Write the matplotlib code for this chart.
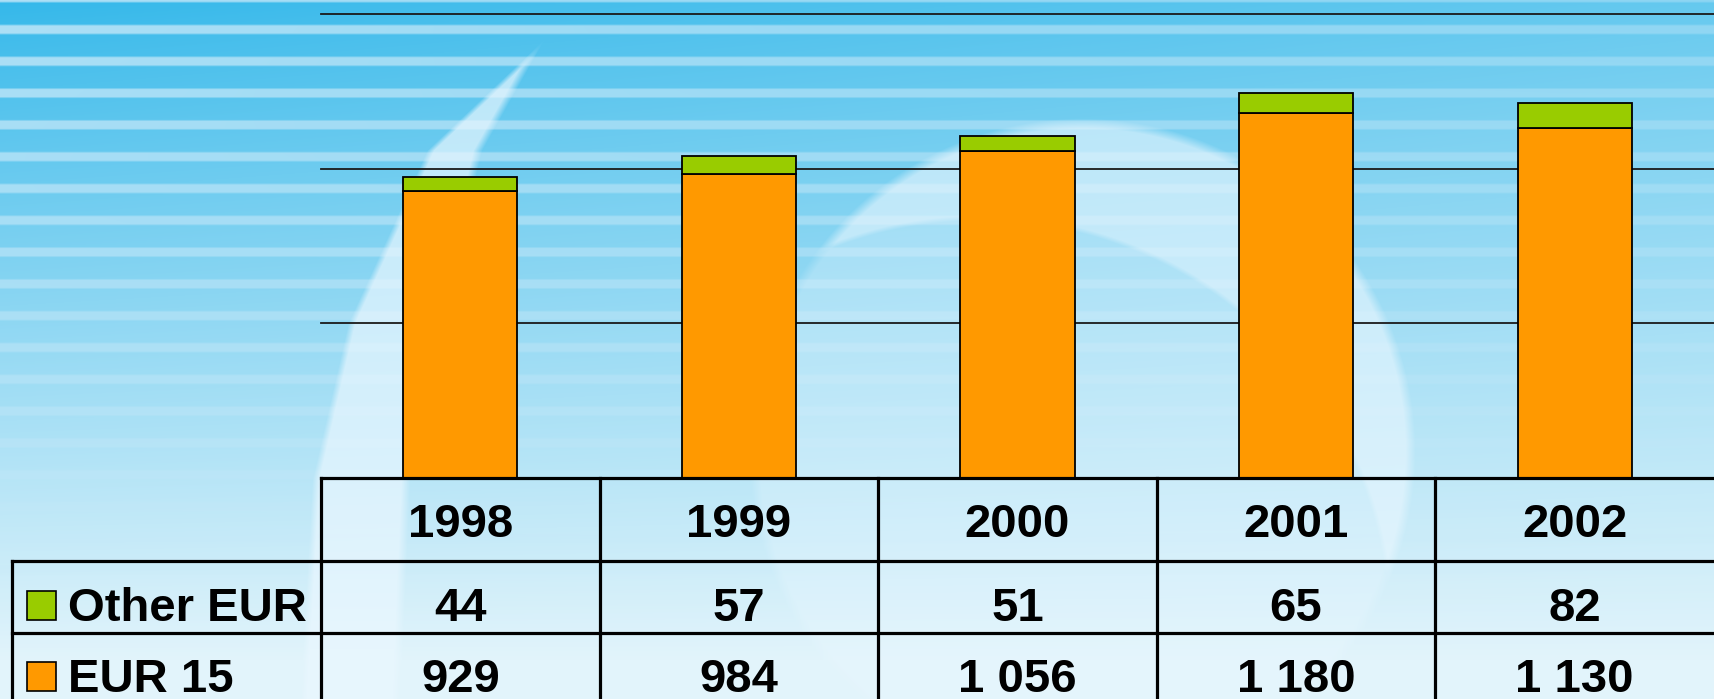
"""Stacked bar chart EUR 15 / Other EUR with data table underneath."""

import matplotlib

matplotlib.use("Agg")

import matplotlib.pyplot as plt
import matplotlib.transforms as mtransforms
import numpy as np

years = ["1998", "1999", "2000", "2001", "2002"]
eur15 = [929, 984, 1056, 1180, 1130]
other_eur = [44, 57, 51, 65, 82]
series_labels = ["Other EUR", "EUR 15"]

ORANGE = "#FF9900"
GREEN = "#99CC00"

W, H = 1714, 699
plt.rcParams["font.family"] = ["Liberation Sans", "DejaVu Sans"]


def make_background() -> np.ndarray:
    """Blue striped gradient with two pale swooshes."""
    yy, xx = np.mgrid[0:H, 0:W].astype(float)
    top = np.array([52, 184, 234]) / 255
    bot = np.array([226, 244, 251]) / 255
    t = np.clip(yy / 660, 0, 1) ** 0.9
    tx = xx / W
    mix = np.clip(t + 0.28 * tx * (1 - t), 0, 1)[..., None]
    img = top * (1 - mix) + bot * mix

    # horizontal light stripes, fading to the right and downwards
    period = 31.8
    phase = (yy - 29) % period
    d = np.minimum(phase, period - phase)
    band = np.clip((5.5 - d) / 2.0, 0, 1)
    amp = np.clip(1 - yy / 600, 0, 1) ** 0.6 * (1 - 0.5 * tx)
    stripe = np.array([196, 231, 248]) / 255
    k = (band * amp * 0.85)[..., None]
    img = img * (1 - k) + stripe * k

    white = np.array([0.92, 0.97, 1.0])

    # left swoosh
    ys = [38, 150, 323, 480, 699]
    xo = np.interp(yy, ys, [545, 427, 348, 312, 300])
    xi = np.interp(yy, ys, [545, 482, 440, 410, 400])
    a_left = np.clip((xx - xo) / 7, 0, 1) * np.clip((xi - xx) / 9, 0, 1)
    a_left *= (yy >= 38) * 0.68

    # big circular crescent
    r1 = np.hypot(xx - 1082, yy - 451)
    r2 = np.hypot(xx - 980, yy - 629)
    in_outer = np.clip((333 - r1) / 10, 0, 1)
    crescent = in_outer * np.clip((r2 - 404) / 10, 0, 1)
    a_circ = np.maximum(crescent * 0.6, in_outer * 0.3)

    a = np.clip(np.maximum(a_left, a_circ), 0, 1)[..., None]
    img = img * (1 - a) + white * a
    return np.clip(img, 0, 1)


fig = plt.figure(figsize=(W / 100, H / 100), dpi=100)

bg = fig.add_axes([0, 0, 1, 1], zorder=-10)
bg.imshow(make_background(), aspect="auto", extent=(0, W, H, 0), interpolation="bilinear")
bg.axis("off")

# plot area: x from 321 px to the right edge, y from 14 px (1500) to 478 px (0)
left, right, top_px, base_px = 321, W, 14, 478
ax = fig.add_axes(
    [left / W, (H - base_px) / H, (right - left) / W, (base_px - top_px) / H]
)
ax.set_facecolor("none")
x = np.arange(len(years))
for v in (500, 1000, 1500):
    ax.axhline(v, color="#1a1a1a", linewidth=1.3, zorder=1, clip_on=False)
ax.bar(x, eur15, width=0.41, color=ORANGE, edgecolor="black", linewidth=1.3, zorder=3)
ax.bar(x, other_eur, width=0.41, bottom=eur15, color=GREEN, edgecolor="black",
       linewidth=1.3, zorder=3)
ax.set_xlim(-0.5, len(years) - 0.5)
ax.set_ylim(0, 1500)
ax.axis("off")

# overlay in pixel coordinates for the data table
ov = fig.add_axes([0, 0, 1, 1])
ov.set_xlim(0, W)
ov.set_ylim(H, 0)
ov.axis("off")
ov.set_facecolor("none")
col_tf = mtransforms.blended_transform_factory(ax.transData, ov.transData)

row_top, row2, row3, row_end = 478, 561, 633, 720
lw = 2.3
ov.plot([left, W], [row_top, row_top], color="black", lw=lw)
for yline in (row2, row3):
    ov.plot([12, W], [yline, yline], color="black", lw=lw)
ov.plot([12, 12], [row2, row_end], color="black", lw=lw)
ov.plot([left, left], [row_top, row_end], color="black", lw=lw)
for b in x[:-1] + 0.5:
    ov.plot([b, b], [row_top, row_end], color="black", lw=lw, transform=col_tf)

fs = 34
txt = dict(fontsize=fs, fontweight="bold", ha="center", va="baseline", color="black")
fmt = lambda v: f"{v:,}".replace(",", " ")
for i, yr in enumerate(years):
    ov.text(i, 537, yr, transform=col_tf, **txt)
    ov.text(i, 621, fmt(other_eur[i]), transform=col_tf, **txt)
    ov.text(i, 692, fmt(eur15[i]), transform=col_tf, **txt)

# legend cells
for (label, color, base) in zip(series_labels, [GREEN, ORANGE], [621, 692]):
    ov.add_patch(plt.Rectangle((27, base - 30), 29, 29, facecolor=color,
                               edgecolor="black", linewidth=1.2))
    ov.text(68, base, label, fontsize=fs, fontweight="bold", ha="left",
            va="baseline", color="black")

fig.savefig("out.png", dpi=100)
plt.close(fig)
